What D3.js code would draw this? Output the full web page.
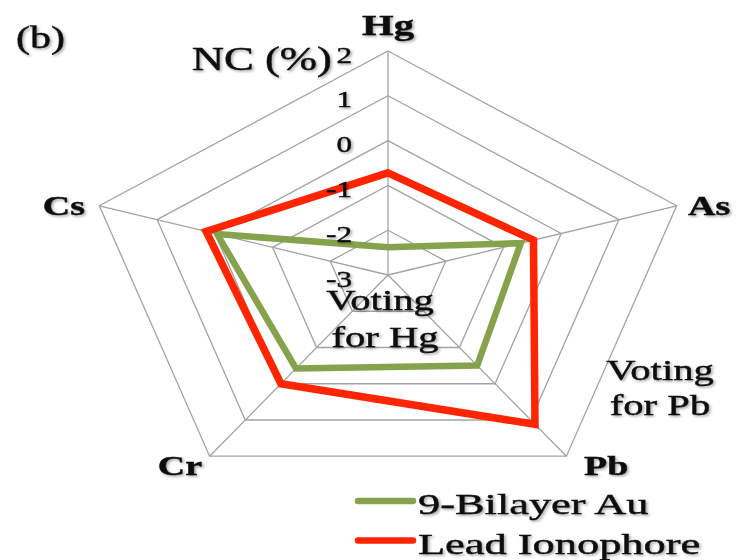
<!DOCTYPE html>
<html>
<head>
<meta charset="utf-8">
<script src="https://cdn.jsdelivr.net/npm/d3@7"></script>
<style>
  body { margin: 0; background: #fff; }
  text { font-family: "Liberation Serif", "DejaVu Serif", serif; fill: #111; stroke: #111; stroke-width: 0.45px; }
</style>
</head>
<body>
<div id="chart"></div>
<script>
// data
const axes = ["Hg", "As", "Pb", "Cr", "Cs"];
const ticks = [-3, -2, -1, 0, 1, 2];
const bilayerAu = [-2.38, -0.70, -0.50, -0.42, -0.04];
const leadIonophore = [-0.72, -0.48, 1.12, 0.00, 0.15];
const seriesNames = ["9-Bilayer Au", "Lead Ionophore"];

const width = 738, height = 560;
const cx = 388, cy = 275, R = 224;
const sx = 1.355; // the figure is stretched sideways

const svg = d3.select("#chart").append("svg")
    .attr("width", width)
    .attr("height", height);

svg.append("rect").attr("width", width).attr("height", height).attr("fill", "#fff");

const defs = svg.append("defs");
defs.append("filter").attr("id", "shadow")
    .attr("x", "-10%").attr("y", "-10%").attr("width", "130%").attr("height", "140%")
    .append("feDropShadow")
    .attr("dx", 1.2).attr("dy", 1.5).attr("stdDeviation", 1)
    .attr("flood-color", "#000").attr("flood-opacity", 0.35);

const r = d3.scaleLinear().domain([-3, 2]).range([0, R]);
const angle = d3.scalePoint().domain(axes).range([0, 2 * Math.PI * 4 / 5]);

const px = (a, v) => cx + sx * r(v) * Math.sin(angle(a));
const py = (a, v) => cy - r(v) * Math.cos(angle(a));

// grid rings
const grid = svg.append("g");
ticks.filter(t => t > -3).forEach(t => {
    grid.append("polygon")
        .attr("points", axes.map(a => `${px(a, t)},${py(a, t)}`).join(" "))
        .attr("fill", "none")
        .attr("stroke", "#a3a3a3")
        .attr("stroke-width", 1.3);
});
axes.forEach(a => {
    grid.append("line")
        .attr("x1", cx).attr("y1", cy)
        .attr("x2", px(a, 2)).attr("y2", py(a, 2))
        .attr("stroke", "#a3a3a3")
        .attr("stroke-width", 1.3);
});

function label(str, x, y, size, opts = {}) {
    return svg.append("text")
        .attr("transform", `translate(${x},${y}) scale(${opts.k || sx},1)`)
        .attr("text-anchor", opts.anchor || "start")
        .attr("font-size", size + "px")
        .attr("font-weight", opts.bold ? "bold" : "normal")
        .attr("filter", "url(#shadow)")
        .text(str);
}

// series
const line = d3.line()
    .x((d, i) => px(axes[i], d))
    .y((d, i) => py(axes[i], d))
    .curve(d3.curveLinearClosed);

const series = [
    { name: seriesNames[0], values: bilayerAu, color: "#85a24c", w: 6.5 },
    { name: seriesNames[1], values: leadIonophore, color: "#ff2500", w: 7.5 }
];

// voting texts sit under the lines
label("Voting", 380, 310, 30, { anchor: "middle" });
label("for Hg", 385, 347, 30, { anchor: "middle" });

series.forEach(s => {
    svg.append("path")
        .attr("d", line(s.values))
        .attr("fill", "none")
        .attr("stroke", s.color)
        .attr("stroke-width", s.w)
        .attr("stroke-linejoin", "miter");
});

// tick labels
ticks.forEach(t => {
    label(t, 352, cy - r(t) + 11.5, 23, { anchor: "end" });
});

// axis labels
label("Hg", 388, 35, 30, { anchor: "middle", bold: true });
label("As", 688, 215, 28, { bold: true });
label("Pb", 584, 475, 28, { bold: true });
label("Cr", 202, 475, 28, { anchor: "end", bold: true });
label("Cs", 85, 215, 28, { anchor: "end", bold: true });

label("(b)", 16, 48, 31);
label("NC (%)", 332, 70, 33, { anchor: "end" });
label("Voting", 660, 380, 30, { anchor: "middle" });
label("for Pb", 660, 415, 30, { anchor: "middle" });

// legend
series.forEach((s, i) => {
    const y = 501 + i * 39.5;
    svg.append("line")
        .attr("x1", 358).attr("x2", 413)
        .attr("y1", y).attr("y2", y)
        .attr("stroke", s.color)
        .attr("stroke-width", 6.5)
        .attr("stroke-linecap", "round");
    label(s.name, 418, y + 13, 30, { k: 1.48 });
});
</script>
</body>
</html>
